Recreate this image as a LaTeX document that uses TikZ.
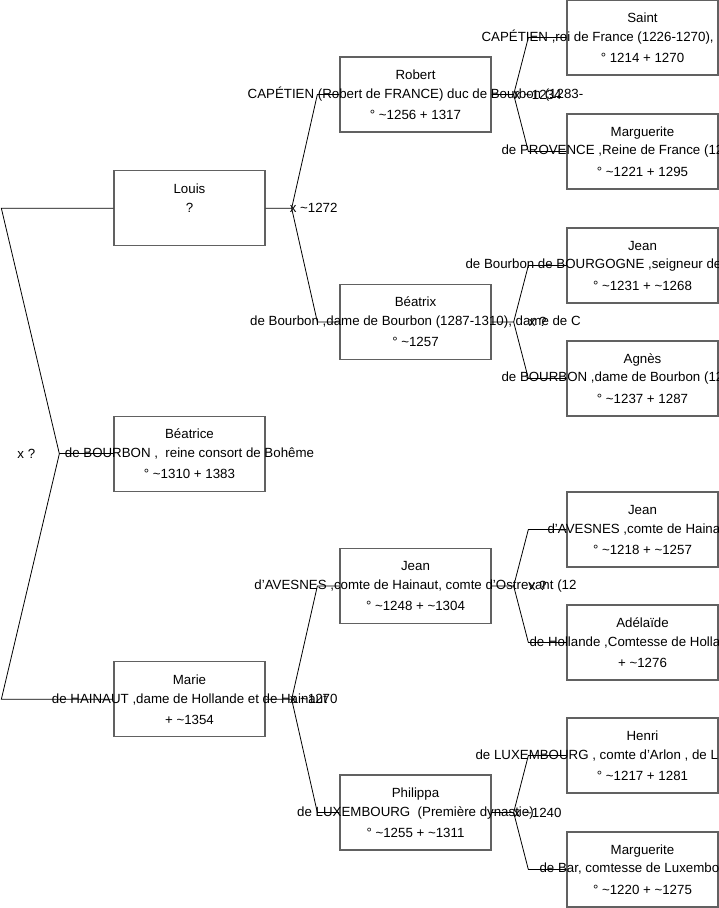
\documentclass[tikz,border=0pt]{standalone}
\usepackage{fontspec}
\setsansfont{Liberation Sans}
\newcommand{\abt}{\textasciitilde}

\begin{document}
\begin{tikzpicture}[
  x=1pt, y=-1pt,
  font=\sffamily\fontsize{13.3}{20}\selectfont,
  pbox/.style={draw=black!62,line width=1.3pt,minimum width=151pt,minimum height=75pt,
               align=center,inner sep=0pt},
  mid/.style={inner sep=0pt},
  cut/.style={inner sep=0pt,anchor=west},
  link/.style={line width=0.8pt,black},
  wed/.style={inner sep=0pt}
]
\useasboundingbox (0,0) rectangle (719,908);
\clip (0,0) rectangle (719,908);

% generation 1
\node[pbox] (louis) at (189.5,208.25) {Louis\\[20pt]\mbox{}};
\node[pbox] (beatrice) at (189.5,453.75) {Béatrice\\[20pt]° \abt1310 + 1383};
\node[pbox] (marie) at (189.5,699.25) {Marie\\[20pt]+ \abt1354};

% generation 2
\node[pbox] (robert) at (415.5,94.5) {Robert\\[20pt]° \abt1256 + 1317};
\node[pbox] (beatrix) at (415.5,322) {Béatrix\\[20pt]° \abt1257};
\node[pbox] (jeanAv) at (415.5,586) {Jean\\[20pt]° \abt1248 + \abt1304};
\node[pbox] (philippa) at (415.5,812.5) {Philippa\\[20pt]° \abt1255 + \abt1311};

% generation 3
\node[pbox] (saint) at (642.5,37.5) {Saint\\[20pt]° 1214 + 1270};
\node[pbox] (margProv) at (642.5,151.5) {Marguerite\\[20pt]° \abt1221 + 1295};
\node[pbox] (jeanBg) at (642.5,265.5) {Jean\\[20pt]° \abt1231 + \abt1268};
\node[pbox] (agnes) at (642.5,378.5) {Agnès\\[20pt]° \abt1237 + 1287};
\node[pbox] (jeanAvP) at (642.5,529.5) {Jean\\[20pt]° \abt1218 + \abt1257};
\node[pbox] (adelaide) at (642.5,642.5) {Adélaïde\\[20pt]+ \abt1276};
\node[pbox] (henri) at (642.5,755.5) {Henri\\[20pt]° \abt1217 + 1281};
\node[pbox] (margBar) at (642.5,869.5) {Marguerite\\[20pt]° \abt1220 + \abt1275};

% middle lines, running over the boxes
\node[mid] (louisT) at (louis.center) {?};
\node[mid] (beatriceT) at (beatrice.center) {de BOURBON ,\ \ reine consort de Bohême};
\node[mid] (marieT) at (marie.center) {de HAINAUT ,dame de Hollande et de Hainaut};
\node[mid] (robertT) at (robert.center) {CAPÉTIEN (Robert de FRANCE) duc de Bourbon (1283-};
\node[mid] (beatrixT) at (beatrix.center) {de Bourbon ,dame de Bourbon (1287-1310), dame de C};
\node[mid] (jeanAvT) at (jeanAv.center) {d'AVESNES ,comte de Hainaut, comte d'Ostrevant (12};
\node[mid] (philippaT) at (philippa.center) {de LUXEMBOURG\ \ (Première dynastie)};
\node[cut] (saintT) at ([xshift=-85pt]saint.west) {CAPÉTIEN ,roi de France (1226-1270),};
\node[cut] (margProvT) at ([xshift=-65pt]margProv.west) {de PROVENCE ,Reine de France (12};
\node[cut] (jeanBgT) at ([xshift=-101pt]jeanBg.west) {de Bourbon de BOURGOGNE ,seigneur de};
\node[cut] (agnesT) at ([xshift=-65pt]agnes.west) {de BOURBON ,dame de Bourbon (12};
\node[cut] (jeanAvPT) at ([xshift=-19pt]jeanAvP.west) {d'AVESNES ,comte de Hainaut};
\node[cut] (adelaideT) at ([xshift=-37pt]adelaide.west) {de Hollande ,Comtesse de Hollande};
\node[cut] (henriT) at ([xshift=-91pt]henri.west) {de LUXEMBOURG , comte d'Arlon , de L};
\node[cut] (margBarT) at ([xshift=-27pt]margBar.west) {de Bar, comtesse de Luxembourg};

% parents of Beatrice
\draw[link] (beatrice.west) -- ++(-54,0) coordinate (beatriceJ);
\draw[link] (beatriceJ) -- ([xshift=-112pt]louis.west) -- (louis.west);
\draw[link] (beatriceJ) -- ([xshift=-112pt]marie.west) -- (marie.west);
\node[wed] at ([xshift=-33pt]beatriceJ) {x ?};

% parents of Louis and Marie
\draw[link] (louis.east) -- ++(26,0) coordinate (louisJ) -- ([xshift=-22pt]robert.west) -- (robert.west);
\draw[link] (louisJ) -- ([xshift=-22pt]beatrix.west) -- (beatrix.west);
\node[wed] at ([xshift=22pt]louisJ) {x \abt1272};

\draw[link] (marie.east) -- ++(26,0) coordinate (marieJ) -- ([xshift=-22pt]jeanAv.west) -- (jeanAv.west);
\draw[link] (marieJ) -- ([xshift=-22pt]philippa.west) -- (philippa.west);
\node[wed] at ([xshift=22pt]marieJ) {x \abt1270};

% grandparents
\draw[link] (robert.east) -- ++(22,0) coordinate (robertJ) -- ([xshift=-38pt]saint.west) -- (saint.west);
\draw[link] (robertJ) -- ([xshift=-38pt]margProv.west) -- (margProv.west);
\node[wed] at ([xshift=24pt]robertJ) {x \abt1234};

\draw[link] (beatrix.east) -- ++(22,0) coordinate (beatrixJ) -- ([xshift=-38pt]jeanBg.west) -- (jeanBg.west);
\draw[link] (beatrixJ) -- ([xshift=-38pt]agnes.west) -- (agnes.west);
\node[wed] at ([xshift=24pt]beatrixJ) {x ?};

\draw[link] (jeanAv.east) -- ++(22,0) coordinate (jeanAvJ) -- ([xshift=-38pt]jeanAvP.west) -- (jeanAvP.west);
\draw[link] (jeanAvJ) -- ([xshift=-38pt]adelaide.west) -- (adelaide.west);
\node[wed] at ([xshift=24pt]jeanAvJ) {x ?};

\draw[link] (philippa.east) -- ++(22,0) coordinate (philippaJ) -- ([xshift=-38pt]henri.west) -- (henri.west);
\draw[link] (philippaJ) -- ([xshift=-38pt]margBar.west) -- (margBar.west);
\node[wed] at ([xshift=24pt]philippaJ) {x \abt1240};

\end{tikzpicture}
\end{document}
